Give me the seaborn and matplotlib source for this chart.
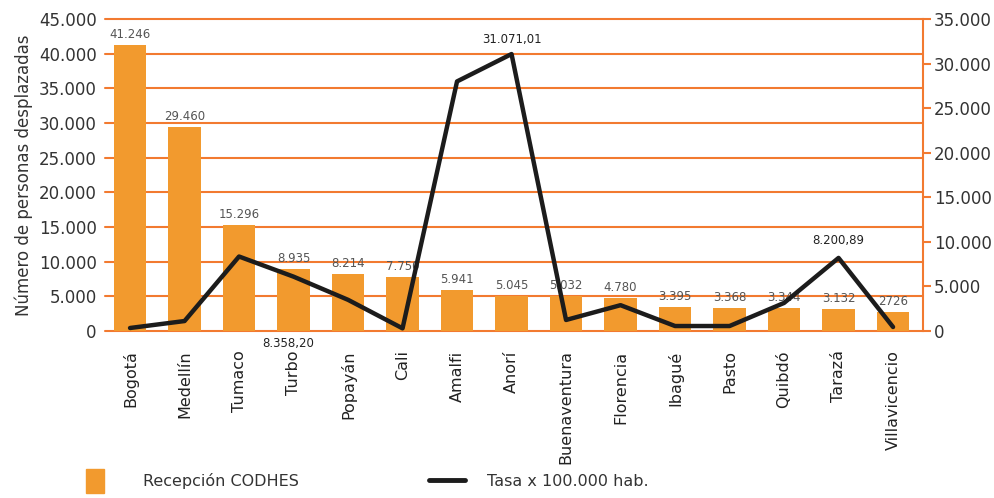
import numpy as np
import pandas as pd
import matplotlib
matplotlib.use('Agg')
import matplotlib.pyplot as plt
import seaborn as sns
from matplotlib.patches import Patch
from matplotlib.lines import Line2D
from matplotlib.ticker import FuncFormatter, MultipleLocator

ciudades = ['Bogotá', 'Medellín', 'Tumaco', 'Turbo', 'Popayán', 'Cali', 'Amalfi', 'Anorí',
            'Buenaventura', 'Florencia', 'Ibagué', 'Pasto', 'Quibdó', 'Tarazá', 'Villavicencio']
recepcion = [41246, 29460, 15296, 8935, 8214, 7750, 5941, 5045, 5032, 4780, 3395, 3368, 3344, 3132, 2726]
recepcion_txt = ['41.246', '29.460', '15.296', '8.935', '8.214', '7.750', '5.941', '5.045',
                 '5.032', '4.780', '3.395', '3.368', '3.344', '3.132', '2726']
tasa = [340, 1120, 8358.20, 6100, 3500, 300, 28000, 31071.01, 1240, 2900, 560, 560, 3150, 8200.89, 450]

bar_c = '#f29a2e'
grid_c = '#f27a30'
line_c = '#1c1c1c'

sns.set_theme(style='white')
plt.rcParams['font.family'] = ['DejaVu Sans']

df = pd.DataFrame({'ciudad': ciudades, 'recepcion': recepcion, 'tasa': tasa})

fig = plt.figure(figsize=(9.94, 4.98), dpi=100)
ax = fig.add_axes([0.1056, 0.3353, 0.823, 0.6265])

sns.barplot(data=df, x='ciudad', y='recepcion', color=bar_c, saturation=1, width=0.6,
            edgecolor='none', linewidth=0, ax=ax, zorder=2)
ax.bar_label(ax.containers[0], labels=recepcion_txt, padding=3, fontsize=8.5, color='#555555')

ax.set_ylim(0, 45000)
ax.set_xlim(-0.46, 14.55)
ax.yaxis.set_major_locator(MultipleLocator(5000))
fmt = FuncFormatter(lambda v, p: f'{int(v):,}'.replace(',', '.'))
ax.yaxis.set_major_formatter(fmt)
ax.set_axisbelow(True)
ax.grid(axis='y', color=grid_c, lw=1.5)
for gl in ax.get_ygridlines():
    gl.set_clip_on(False)
ax.tick_params(axis='y', length=0, pad=6, labelsize=12, labelcolor='#333333')
ax.tick_params(axis='x', length=0, pad=14, labelsize=11.5, labelcolor='#222222')
plt.setp(ax.get_xticklabels(), rotation=90, va='top')
ax.set_xlabel('')
ax.set_ylabel('Número de personas desplazadas', fontsize=12, color='#333333', labelpad=4)
for s in ['top', 'left', 'bottom', 'right']:
    ax.spines[s].set_visible(False)

ax2 = ax.twinx()
sns.lineplot(x=np.arange(len(ciudades)), y=df['tasa'], ax=ax2, color=line_c, lw=3.2)
ax2.set_ylim(0, 35000)
ax2.yaxis.set_major_locator(MultipleLocator(5000))
ax2.yaxis.set_major_formatter(fmt)
ax2.set_ylabel('')
ax2.tick_params(axis='y', length=6, width=1.5, color=grid_c, pad=2, labelsize=12, labelcolor='#333333')
for s in ['top', 'left', 'bottom']:
    ax2.spines[s].set_visible(False)
ax2.spines['right'].set_color(grid_c)
ax2.spines['right'].set_linewidth(1.5)

ax2.annotate('31.071,01', (7, tasa[7]), xytext=(0, 6), textcoords='offset points',
             ha='center', va='bottom', fontsize=8.5, color='#222222')
ax2.annotate('8.200,89', (13, tasa[13]), xytext=(0, 8), textcoords='offset points',
             ha='center', va='bottom', fontsize=8.5, color='#222222')
ax2.annotate('8.358,20', (3, 0), xytext=(-4, -4), textcoords='offset points',
             ha='center', va='top', fontsize=8.5, color='#222222')

fig.legend(handles=[Patch(color=bar_c)], labels=['Recepción CODHES'], loc='center left',
           bbox_to_anchor=(0.087, 0.034), frameon=False, handlelength=1.07, handleheight=2.0,
           handletextpad=2.5, borderpad=0, borderaxespad=0, fontsize=11.5, labelcolor='#333333')
fig.legend(handles=[Line2D([], [], color=line_c, lw=3.5)], labels=['Tasa x 100.000 hab.'],
           loc='center left', bbox_to_anchor=(0.432, 0.034), frameon=False, handlelength=2.2,
           handletextpad=1.4, borderpad=0, borderaxespad=0, fontsize=11.5, labelcolor='#333333')

fig.savefig('out.png', dpi=100)
